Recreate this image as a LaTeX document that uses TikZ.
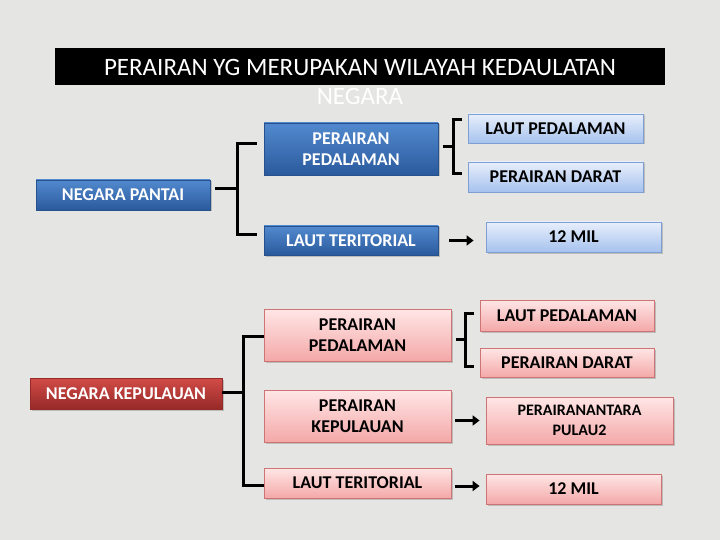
\documentclass[tikz,border=0pt]{standalone}
\usepackage{fontspec}
\setmainfont{Carlito}
\usetikzlibrary{shadows,calc,arrows.meta}
\definecolor{bgc}{HTML}{E5E5E3}
\definecolor{blueT}{HTML}{5289CE}
\definecolor{blueB}{HTML}{2A5A9D}
\definecolor{lbT}{HTML}{E8EFFB}
\definecolor{lbB}{HTML}{A6C2EE}
\definecolor{lbD}{HTML}{7F9ED3}
\definecolor{pkT}{HTML}{FFE6E6}
\definecolor{pkB}{HTML}{F4A8A8}
\definecolor{pkD}{HTML}{CF7474}
\definecolor{rdT}{HTML}{D24B47}
\definecolor{rdB}{HTML}{962A28}
\tikzset{
  boxbase/.style={rectangle, inner sep=0pt, align=center, font=\bfseries\fontsize{18}{21}\selectfont,
    drop shadow={shadow xshift=1.5pt, shadow yshift=-1.5pt, fill=black!45, opacity=0.45}},
  bluebox/.style={boxbase, top color=blueT, bottom color=blueB, draw=blueB!90!black, line width=0.4pt, text=white},
  lbluebox/.style={boxbase, top color=lbT, bottom color=lbB, draw=lbD, line width=0.8pt, text=black},
  pinkbox/.style={boxbase, top color=pkT, bottom color=pkB, draw=pkD, line width=0.8pt, text=black},
  redbox/.style={boxbase, top color=rdT, bottom color=rdB, draw=rdB, line width=0.4pt, text=white},
  br/.style={line width=3pt, black},
  arr/.style={line width=3pt, black, -{Triangle[length=7pt,width=10pt]}},
}
\begin{document}
\begin{tikzpicture}[x=1pt,y=-1pt]
\useasboundingbox (0,0) rectangle (720,540);
\fill[bgc] (0,0) rectangle (720,540);
% title
\fill[black] (55,48) rectangle (665,85);
\node[text=white, font=\fontsize{25}{28}\selectfont, inner sep=0pt] (title) at (360,67) {PERAIRAN YG MERUPAKAN WILAYAH KEDAULATAN};
\node[text=white, font=\fontsize{25}{28}\selectfont, inner sep=0pt] (title2) at (360,96) {NEGARA};
% top section
\node[bluebox, minimum width=174pt, minimum height=30pt] (np) at (123,195) {NEGARA PANTAI};
\node[bluebox, minimum width=174pt, minimum height=52pt] (ppd1) at (351,149) {PERAIRAN\\PEDALAMAN};
\node[bluebox, minimum width=174pt, minimum height=29pt] (lt1) at (351,240.5) {LAUT TERITORIAL};
\node[lbluebox, minimum width=175pt, minimum height=29pt] (lp1) at (555.5,128.5) {LAUT PEDALAMAN};
\node[lbluebox, minimum width=175pt, minimum height=30pt] (pd1) at (555.5,177) {PERAIRAN DARAT};
\node[lbluebox, minimum width=175pt, minimum height=30pt] (m1) at (573.5,237) {12 MIL};
% bottom section
\node[redbox, minimum width=192pt, minimum height=31pt] (nk) at (126,393.5) {NEGARA KEPULAUAN};
\node[pinkbox, minimum width=187pt, minimum height=52pt] (ppd2) at (357.5,335) {PERAIRAN\\PEDALAMAN};
\node[pinkbox, minimum width=187pt, minimum height=52pt] (pk2) at (357.5,416) {PERAIRAN\\KEPULAUAN};
\node[pinkbox, minimum width=187pt, minimum height=30pt] (lt2) at (357.5,483) {LAUT TERITORIAL};
\node[pinkbox, minimum width=174pt, minimum height=31pt] (lp2) at (567,315.5) {LAUT PEDALAMAN};
\node[pinkbox, minimum width=174pt, minimum height=29pt] (pd2) at (567,362.5) {PERAIRAN DARAT};
\node[pinkbox, minimum width=187pt, minimum height=47pt, font=\bfseries\fontsize{16}{20}\selectfont] (pap) at (579.5,420.5) {PERAIRANANTARA\\PULAU2};
\node[pinkbox, minimum width=175pt, minimum height=30pt] (m2) at (573.5,489) {12 MIL};
% bracket 1
\coordinate (b1t) at (237,144);
\coordinate (b1b) at (237,234);
\draw[br] ([xshift=5pt]np.east |- 0,189) -- (b1t |- 0,189);
\draw[br] ($(ppd1.west |- b1t)+(-7,0)$) -- (b1t) -- (b1b) -- ($(lt1.west |- b1b)+(-7,0)$);
% bracket 2
\coordinate (b2t) at (453,120);
\coordinate (b2b) at (453,174);
\draw[br] ([xshift=5pt]ppd1.east |- 0,147) -- (b2t |- 0,147);
\draw[br] ($(lp1.west |- b2t)+(-6,0)$) -- (b2t) -- (b2b) -- ($(pd1.west |- b2b)+(-6,0)$);
% bracket 3
\coordinate (b3t) at (243,336);
\coordinate (b3b) at (243,485);
\draw[br] (nk.east |- 0,392) -- (b3t |- 0,392);
\draw[br] (ppd2.west |- b3t) -- (b3t) -- (b3b) -- (lt2.west |- b3b);
% bracket 4
\coordinate (b4t) at (465,313);
\coordinate (b4b) at (465,366);
\draw[br] ([xshift=5pt]ppd2.east |- 0,339) -- (b4t |- 0,339);
\draw[br] ($(lp2.west |- b4t)+(-6,0)$) -- (b4t) -- (b4b) -- ($(pd2.west |- b4b)+(-6,0)$);
% arrows
\draw[arr, shorten <=11pt, shorten >=12pt] (lt1.east) -- (lt1.east -| m1.west);
\draw[arr, shorten <=4pt, shorten >=6pt] (pap.west -| pk2.east) -- (pap.west);
\draw[arr, shorten <=4pt, shorten >=6pt] (lt2.east |- 0,486) -- (m2.west |- 0,486);
\end{tikzpicture}
\end{document}
